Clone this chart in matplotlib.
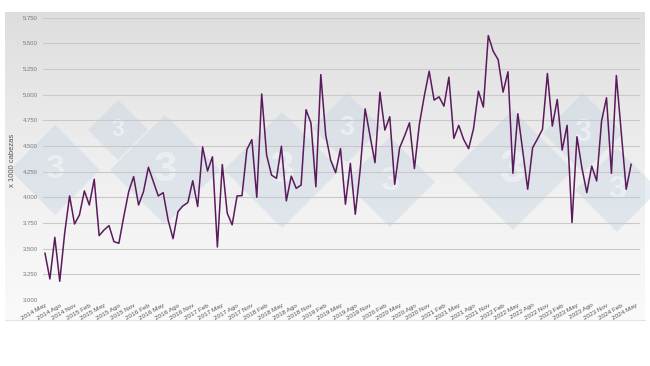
import matplotlib
matplotlib.use("Agg")
import matplotlib.pyplot as plt
import numpy as np
from matplotlib.patches import Polygon

plt.rcParams["font.family"] = ["Liberation Sans", "DejaVu Sans"]

# monthly values (x 1000 cabezas), starting 2014 May
values = [
    3455, 3205, 3610, 3182, 3650, 4013, 3740, 3828, 4062, 3925,
    4175, 3627, 3682, 3724, 3568, 3552, 3812, 4055, 4201, 3925,
    4055, 4292, 4153, 4013, 4045, 3779, 3597, 3860, 3916, 3948,
    4161, 3910, 4490, 4255, 4394, 3516, 4319, 3845, 3732, 4013,
    4016, 4465, 4561, 4000, 5006, 4410, 4216, 4184, 4497, 3965,
    4206, 4087, 4119, 4852, 4723, 4103, 5194, 4603, 4361, 4240,
    4473, 3932, 4330, 3835, 4272, 4861, 4596, 4337, 5023, 4654,
    4784, 4126, 4482, 4596, 4725, 4279, 4709, 4984, 5227, 4946,
    4978, 4887, 5169, 4573, 4700, 4563, 4473, 4667, 5033, 4878,
    5574, 5421, 5340, 5024, 5221, 4233, 4813, 4450, 4078, 4482,
    4570, 4661, 5205, 4693, 4952, 4460, 4700, 3754, 4589, 4288,
    4045, 4304, 4159, 4742, 4968, 4233, 5185, 4628, 4078, 4321,
]
month_names = ["May", "Ago", "Nov", "Feb"]
start_year = 2014
y_ticks = [3000, 3250, 3500, 3750, 4000, 4250, 4500, 4750, 5000, 5250, 5500, 5750]

# quarterly tick labels
tick_pos = list(range(0, 121, 3))
tick_labels = []
for k, p in enumerate(tick_pos):
    year = start_year + (p + 4) // 12
    tick_labels.append(f"{year} {month_names[k % 4]}")

# watermark diamonds (pixel centre x, y, half diagonal)
marks = [(118, 130, 30), (55, 170, 45), (165, 170, 55), (282, 170, 58),
         (347, 128, 35), (390, 182, 45), (513, 170, 60), (583, 133, 40),
         (617, 190, 42)]

W, H = 650, 366
fig = plt.figure(figsize=(6.5, 3.66), dpi=100)

# background panel with vertical gradient
bg = fig.add_axes([0, 0, 1, 1])
bg.set_xlim(0, W)
bg.set_ylim(H, 0)
bg.axis("off")
grad = np.linspace(0, 1, 256).reshape(-1, 1)
cmap = matplotlib.colors.LinearSegmentedColormap.from_list(
    "g", ["#dedede", "#efefef", "#fafafa"])
bg.imshow(grad, extent=[5, 645, 320, 12], cmap=cmap, aspect="auto", zorder=0)
bg.plot([5, 645], [320, 320], color="#e4e4e4", lw=0.8)
for cx, cy, h in marks:
    bg.add_patch(Polygon([(cx, cy - h), (cx + h, cy), (cx, cy + h), (cx - h, cy)],
                         closed=True, color="#c3d3e0", alpha=0.4, lw=0, zorder=1))
    bg.text(cx, cy, "3", fontsize=h * 0.55, color="#eef2f6", alpha=0.8,
            ha="center", va="center", fontweight="bold", zorder=1)

ax = fig.add_axes([43 / W, 1 - 300 / H, 597 / W, (300 - 17.5) / H])
ax.patch.set_alpha(0)
x = np.arange(len(values))
ax.plot(x, values, color="#5a1a5c", lw=1.1, zorder=3)

ax.set_ylim(3000, 5750)
ax.set_xlim(-0.4, 120.8)
ax.set_yticks(y_ticks)
ax.set_yticklabels([f"{v // 1000}.{v % 1000:03d}" for v in y_ticks],
                   fontsize=4.3, color="#777")
ax.yaxis.grid(True, color="#c9c9c9", lw=0.8)
ax.set_xticks(tick_pos)
ax.set_xticklabels(tick_labels, rotation=30, ha="right", rotation_mode="anchor",
                   fontsize=4.6, color="#555")
ax.tick_params(axis="both", length=0, pad=2)
ax.tick_params(axis="y", pad=4)
for s in ax.spines.values():
    s.set_visible(False)

fig.text(12 / W, 1 - 160 / H, "x 1000 cabezas", rotation=90, fontsize=5.5,
         color="#555", ha="center", va="center")

fig.savefig("out.png", dpi=100)
